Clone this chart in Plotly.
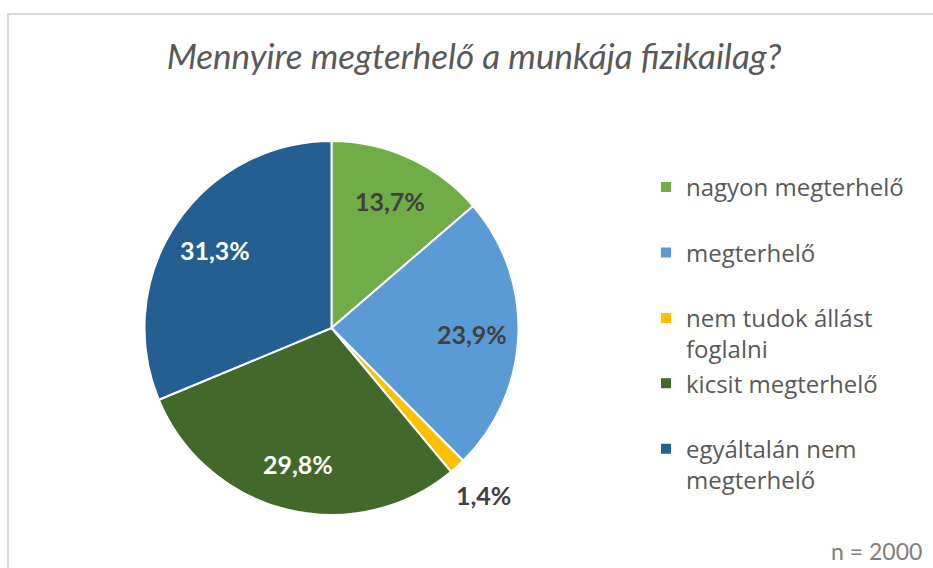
import math
import plotly.graph_objects as go

labels = ["nagyon megterhelő", "megterhelő", "nem tudok állást<br>foglalni",
          "kicsit megterhelő", "egyáltalán nem<br>megterhelő"]
values = [13.7, 23.9, 1.4, 29.8, 31.3]
colors = ["#70AD47", "#5B9BD5", "#FFC000", "#43682B", "#255E91"]
text_colors = ["#404040", "#404040", "#404040", "#FFFFFF", "#FFFFFF"]
label_radius = [0.75, 0.75, 1.21, 0.75, 0.75]   # relative to pie radius (Excel-like label placement)
title_text = "Mennyire megterhelő a munkája fizikailag?"
note_text = "n = 2000"

# every legend entry spans two lines so entries are evenly spaced
legend_labels = [l if "<br>" in l else l + "<br> " for l in labels]

W, H = 933, 568
cx, cy, r = 331.5, 328, 187

fig = go.Figure(go.Pie(
    labels=legend_labels, values=values, sort=False, direction="clockwise", rotation=0,
    marker=dict(colors=colors, line=dict(color="white", width=2)),
    textinfo="none",
    domain=dict(x=[(cx - r) / W, (cx + r) / W], y=[1 - (cy + r) / H, 1 - (cy - r) / H]),
    hoverinfo="label+value",
))

# data labels, placed at each slice's mid-angle (clockwise from 12 o'clock)
annotations = []
total = sum(values)
cum = 0.0
for v, c, k in zip(values, text_colors, label_radius):
    mid = (cum + v / 2) / total * 2 * math.pi
    cum += v
    px = cx + k * r * math.sin(mid)
    py = cy - k * r * math.cos(mid)
    annotations.append(dict(
        text=f"{v:.1f}%".replace(".", ","), x=px / W, y=1 - py / H,
        xref="paper", yref="paper", xanchor="center", yanchor="middle", showarrow=False,
        font=dict(family="Lato", size=25, color=c, weight="bold")))

annotations.append(dict(text=note_text, x=924 / W, y=1 - 551 / H, xref="paper", yref="paper",
                        xanchor="right", yanchor="middle", showarrow=False,
                        font=dict(family="Lato", size=23, color="#7F7F7F")))

fig.update_layout(
    width=W, height=H,
    margin=dict(l=0, r=0, t=0, b=0),
    paper_bgcolor="white", plot_bgcolor="white",
    font=dict(family="Lato", color="#595959"),
    title=dict(text=title_text, x=474 / W, xanchor="center", y=1 - 57 / H, yanchor="middle",
               font=dict(family="Lato", size=35, color="#595959", style="italic")),
    legend=dict(x=646 / W, y=1 - 165 / H, xanchor="left", yanchor="top",
                font=dict(family="Open Sans", size=24, color="#595959"),
                valign="top", itemwidth=30, traceorder="normal"),
    annotations=annotations,
    shapes=[dict(type="rect", xref="paper", yref="paper", x0=8 / W, x1=1.05,
                 y0=-0.05, y1=1 - 14 / H, line=dict(color="#D9D9D9", width=2))],
)

fig.write_html("out.html", config={"displayModeBar": False},
               post_script="document.body.style.margin='0';")
